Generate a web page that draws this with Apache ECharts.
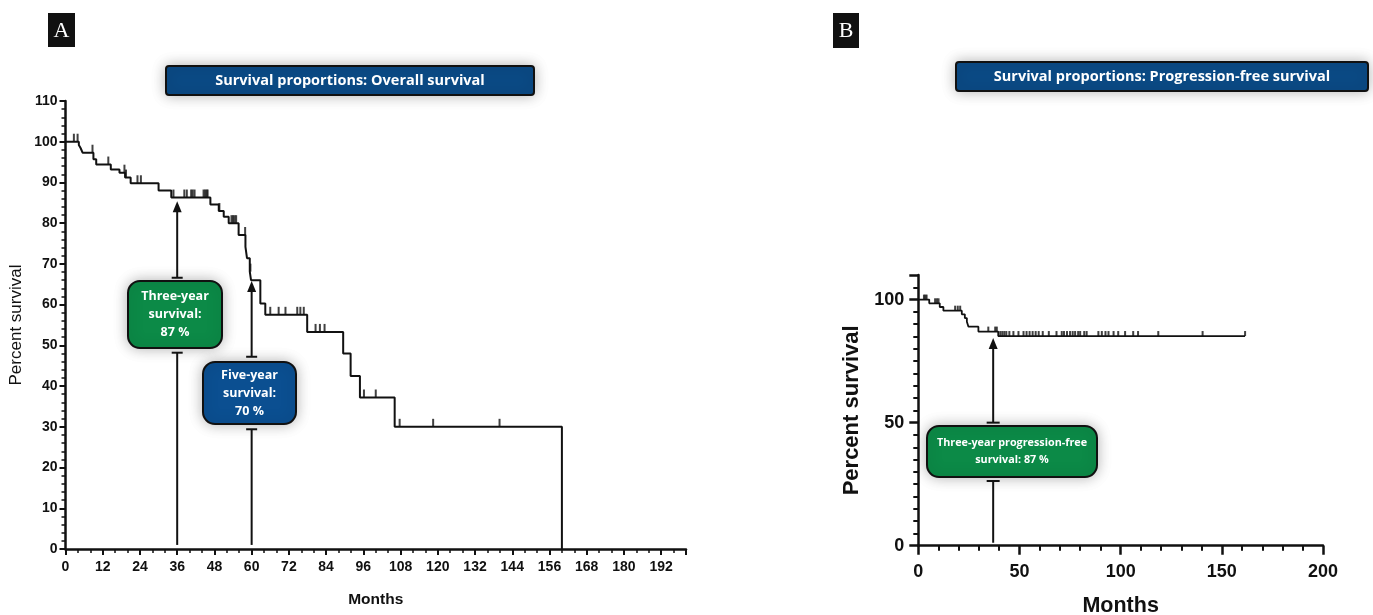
<!DOCTYPE html>
<html>
<head>
<meta charset="utf-8">
<script src="https://cdn.jsdelivr.net/npm/echarts@6/dist/echarts.min.js"></script>
<style>
html,body{margin:0;padding:0;background:#fff;}
#chart{width:1373px;height:615px;}
</style>
</head>
<body>
<div id="chart"></div>
<script>
// ---------- Data ----------
// Panel A: overall survival (Kaplan-Meier steps)
const osTimes    = [0, 4.3, 4.9, 5.5, 9.0, 9.9, 14.6, 17.4, 19.2, 21.0, 30.0, 34.1, 46.7, 49.4, 51.0, 52.6, 55.8, 58.0, 58.5, 59.4, 59.8, 62.8, 64.4, 77.9, 89.5, 91.9, 94.9, 106.1, 160];
const osSurvival = [100, 99.2, 98.4, 97.3, 95.7, 94.4, 93.2, 92.4, 91.2, 89.8, 88.0, 86.3, 84.6, 83.0, 81.6, 80.0, 77.1, 74.2, 71.4, 68.1, 66.0, 60.3, 57.5, 53.3, 48.0, 42.5, 37.2, 30.0, 0];
const osCensorTimes = [2.7, 3.9, 8.7, 13.8, 19.0, 19.5, 23.2, 24.3, 34.8, 38.3, 39.1, 40.5, 41.0, 41.6, 44.5, 45.0, 45.5, 45.8, 49.6, 53.5, 54.0, 54.5, 55.0, 57.9, 59.6, 66.0, 68.7, 70.9, 74.7, 75.7, 76.8, 80.6, 82.0, 83.5, 96.2, 100.0, 107.7, 118.5, 139.9];

// Panel B: progression-free survival
const pfsTimes    = [0, 5.4, 10.6, 12.4, 21.5, 23.0, 24.0, 24.8, 29.7, 39.5, 161.5];
const pfsSurvival = [100, 98.5, 97.0, 95.5, 94.0, 92.5, 91.0, 89.0, 87.0, 85.2, 85.2];
const pfsCensorTimes = [2.8, 3.5, 4.1, 8.3, 9.2, 10.0, 18.2, 19.5, 20.7, 34.6, 38.0, 38.8, 40.5, 41.5, 42.5, 43.5, 45, 47, 49.5, 52, 53.5, 55, 56.5, 58, 59.5, 61.5, 64.5, 68.3, 70.9, 72, 73.5, 75, 76.3, 77.5, 79, 80, 82, 83.2, 89, 90.7, 92.5, 94, 96.5, 98.8, 102.2, 106.2, 108.6, 118.6, 140.5, 161.5];

// Axis ticks
const xTickStepA = 12, xMaxA = 200, yTickStepA = 10, yMaxA = 110;
const xTickStepB = 50, xMaxB = 200, yTickStepB = 50, yMaxB = 110;

// Annotation arrows: [month, lowerStart, lowerCap, upperCap, arrowTip] (percent)
const arrowsA = [[36, 1, 48.2, 66.6, 85.4], [60, 1, 29.4, 47.2, 65.8]];
const arrowsB = [[37, 1.2, 26.3, 50.0, 84.4]];

// ---------- Helpers ----------
function kmPoints(t, s) { return t.map((v, i) => [v, s[i]]); }
function survAt(t, s, x) {
  let v = s[0];
  for (let i = 0; i < t.length; i++) { if (t[i] <= x) v = s[i]; }
  return v;
}
function censorPoints(ct, t, s) { return ct.map(x => [x, survAt(t, s, x)]); }

const FONT = '"Liberation Sans", Arial, sans-serif';
const BOX_FONT = '"Open Sans", Lato, sans-serif';
const INK = '#111';

function arrowRender(capHalf) {
  return function (params, api) {
    const x = api.value(0);
    const p0 = api.coord([x, api.value(1)]);
    const p1 = api.coord([x, api.value(2)]);
    const p2 = api.coord([x, api.value(3)]);
    const p3 = api.coord([x, api.value(4)]);
    const ls = { stroke: INK, lineWidth: 2 };
    return {
      type: 'group',
      children: [
        { type: 'line', shape: { x1: p0[0], y1: p0[1], x2: p1[0], y2: p1[1] }, style: ls },
        { type: 'line', shape: { x1: p1[0] - capHalf, y1: p1[1], x2: p1[0] + capHalf, y2: p1[1] }, style: { stroke: INK, lineWidth: 2 } },
        { type: 'line', shape: { x1: p2[0], y1: p2[1], x2: p3[0], y2: p3[1] + 8 }, style: ls },
        { type: 'line', shape: { x1: p2[0] - capHalf, y1: p2[1], x2: p2[0] + capHalf, y2: p2[1] }, style: { stroke: INK, lineWidth: 2 } },
        { type: 'polygon', shape: { points: [[p3[0], p3[1]], [p3[0] - 4.5, p3[1] + 11], [p3[0] + 4.5, p3[1] + 11]] }, style: { fill: INK } }
      ]
    };
  };
}

function axisCommon(extra) {
  return Object.assign({
    type: 'value',
    axisLine: { show: true, lineStyle: { color: INK, width: 2.5 } },
    axisTick: { show: true, inside: false, length: 6, lineStyle: { color: INK, width: 2 } },
    minorTick: { show: true, length: 4, lineStyle: { color: INK, width: 1.5 } },
    splitLine: { show: false },
    minorSplitLine: { show: false }
  }, extra);
}

function box(x, y, w, h, r, fill, text, font, lineHeight) {
  return {
    type: 'group',
    children: [
      { type: 'rect', shape: { x: x, y: y, width: w, height: h, r: r },
        style: { fill: fill, stroke: INK, lineWidth: 2, shadowBlur: 14, shadowColor: 'rgba(0,0,0,0.28)' } },
      { type: 'text', style: { text: text, x: x + w / 2, y: y + h / 2, align: 'center', verticalAlign: 'middle',
        fill: '#fff', font: font, lineHeight: lineHeight } }
    ]
  };
}

const chart = echarts.init(document.getElementById('chart'), null, { renderer: 'canvas' });

const option = {
  backgroundColor: '#fff',
  animation: false,
  grid: [
    { left: 65.5, top: 101, width: 620.5, height: 448, containLabel: false, outerBoundsMode: 'none' },
    { left: 918.3, top: 275, width: 404.7, height: 270.7, containLabel: false, outerBoundsMode: 'none' }
  ],
  xAxis: [
    axisCommon({
      gridIndex: 0, min: 0, max: xMaxA, interval: xTickStepA,
      minorTick: { show: true, splitNumber: 3, length: 4, lineStyle: { color: INK, width: 1.5 } },
      axisLabel: { showMaxLabel: false, margin: 11, color: INK, fontWeight: 'bold', fontSize: 14, fontFamily: FONT },
      name: 'Months', nameLocation: 'middle', nameGap: 43,
      nameTextStyle: { color: INK, fontWeight: 'bold', fontSize: 15.5, fontFamily: FONT }
    }),
    axisCommon({
      gridIndex: 1, min: 0, max: xMaxB, interval: xTickStepB,
      minorTick: { show: true, splitNumber: 5, length: 5, lineStyle: { color: INK, width: 2 } },
      axisTick: { show: true, length: 9, lineStyle: { color: INK, width: 2.5 } },
      axisLine: { show: true, lineStyle: { color: INK, width: 2.5 } },
      axisLabel: { margin: 17, color: INK, fontWeight: 'bold', fontSize: 18, fontFamily: FONT },
      name: 'Months', nameLocation: 'middle', nameGap: 49,
      nameTextStyle: { color: INK, fontWeight: 'bold', fontSize: 21.5, fontFamily: FONT }
    })
  ],
  yAxis: [
    axisCommon({
      gridIndex: 0, min: 0, max: yMaxA, interval: yTickStepA,
      minorTick: { show: true, splitNumber: 5, length: 4, lineStyle: { color: INK, width: 1.5 } },
      axisLabel: { margin: 8, color: INK, fontWeight: 'bold', fontSize: 14, fontFamily: FONT },
      name: 'Percent survival', nameLocation: 'middle', nameGap: 41,
      nameTextStyle: { color: INK, fontSize: 17, fontFamily: FONT }
    }),
    axisCommon({
      gridIndex: 1, min: 0, max: yMaxB, interval: yTickStepB,
      minorTick: { show: true, splitNumber: 10, length: 5, lineStyle: { color: INK, width: 2 } },
      axisTick: { show: true, length: 9, lineStyle: { color: INK, width: 2.5 } },
      axisLine: { show: true, lineStyle: { color: INK, width: 2.5 } },
      axisLabel: { showMaxLabel: false, margin: 14, color: INK, fontWeight: 'bold', fontSize: 18, fontFamily: FONT },
      name: 'Percent survival', nameLocation: 'middle', nameGap: 55,
      nameTextStyle: { color: INK, fontWeight: 'bold', fontSize: 22, fontFamily: FONT }
    })
  ],
  series: [
    { type: 'line', xAxisIndex: 0, yAxisIndex: 0, step: 'end', showSymbol: false, symbol: 'none',
      data: kmPoints(osTimes, osSurvival), lineStyle: { color: INK, width: 2 }, z: 3 },
    { type: 'scatter', xAxisIndex: 0, yAxisIndex: 0, symbol: 'rect', symbolSize: [2, 8], symbolOffset: [0, -4],
      data: censorPoints(osCensorTimes, osTimes, osSurvival), itemStyle: { color: INK }, z: 3 },
    { type: 'custom', xAxisIndex: 0, yAxisIndex: 0, renderItem: arrowRender(5.5), data: arrowsA, z: 4, silent: true },

    { type: 'line', xAxisIndex: 1, yAxisIndex: 1, step: 'end', showSymbol: false, symbol: 'none',
      data: kmPoints(pfsTimes, pfsSurvival), lineStyle: { color: INK, width: 1.8 }, z: 3 },
    { type: 'scatter', xAxisIndex: 1, yAxisIndex: 1, symbol: 'rect', symbolSize: [2, 5], symbolOffset: [0, -2.5],
      data: censorPoints(pfsCensorTimes, pfsTimes, pfsSurvival), itemStyle: { color: INK }, z: 3 },
    { type: 'custom', xAxisIndex: 1, yAxisIndex: 1, renderItem: arrowRender(6.5), data: arrowsB, z: 4, silent: true }
  ],
  graphic: [
    // panel letters
    { type: 'rect', shape: { x: 48, y: 13, width: 27, height: 34 }, style: { fill: '#111' } },
    { type: 'text', style: { text: 'A', x: 61.5, y: 31, align: 'center', verticalAlign: 'middle', fill: '#fff', font: '22px "Liberation Serif", serif' } },
    { type: 'rect', shape: { x: 833, y: 13, width: 26, height: 35 }, style: { fill: '#111' } },
    { type: 'text', style: { text: 'B', x: 846, y: 31, align: 'center', verticalAlign: 'middle', fill: '#fff', font: '22px "Liberation Serif", serif' } },
    // title bars
    box(166, 66, 368, 29, 3, '#0b4a85', 'Survival proportions: Overall survival', 'bold 14.5px ' + BOX_FONT, 16),
    box(956, 62, 412, 29, 3, '#0b4a85', 'Survival proportions: Progression-free survival', 'bold 14.5px ' + BOX_FONT, 16),
    // annotation boxes
    box(128, 281, 94, 67, 12, '#0c8a47', 'Three-year\nsurvival:\n87 %', 'bold 12.5px ' + BOX_FONT, 18),
    box(203, 362, 93, 62, 12, '#0b4f91', 'Five-year\nsurvival:\n70 %', 'bold 12.5px ' + BOX_FONT, 18),
    box(927, 426, 170, 51, 12, '#0c8a47', 'Three-year progression-free\nsurvival: 87 %', 'bold 10.8px ' + BOX_FONT, 17)
  ]
};

chart.setOption(option);
</script>
</body>
</html>
